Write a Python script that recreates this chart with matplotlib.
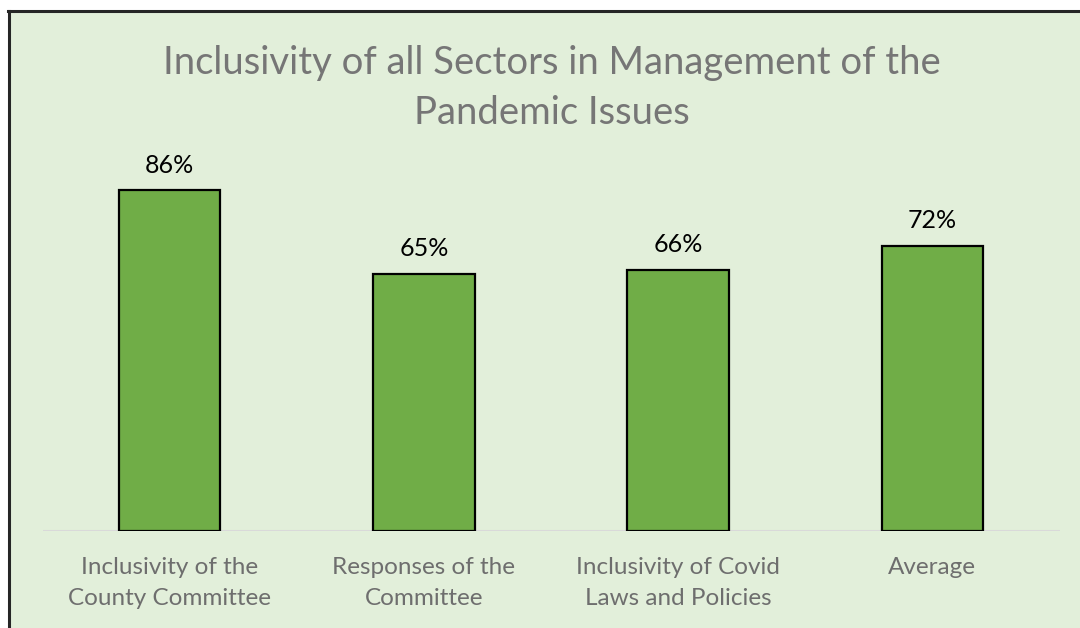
import matplotlib.pyplot as plt
from matplotlib.lines import Line2D
from matplotlib.patches import Rectangle

plt.rcParams['font.family'] = ['Lato', 'DejaVu Sans']

categories = ['Inclusivity of the\nCounty Committee',
              'Responses of the\nCommittee',
              'Inclusivity of Covid\nLaws and Policies',
              'Average']
values = [0.86, 0.65, 0.66, 0.72]
title = 'Inclusivity of all Sectors in Management of the\nPandemic Issues'

bg = '#E2EFDA'
bar_green = '#70AD47'

fig = plt.figure(figsize=(10.8, 6.28), dpi=100)
fig.patch.set_facecolor('white')

# green chart area with a dark frame on the top and left edges
W, H = 1080, 628
x0, top = 9 / W, 1 - 11 / H
fig.patches.append(Rectangle((x0, 0), 1 - x0, top, transform=fig.transFigure,
                             facecolor=bg, edgecolor='none', zorder=-2))
fig.add_artist(Line2D([x0, x0], [0, top], transform=fig.transFigure,
                      color='#262626', lw=2.2, zorder=-1))
fig.add_artist(Line2D([x0 - 1 / W, 1], [top, top], transform=fig.transFigure,
                      color='#262626', lw=2.2, zorder=-1))

ax = fig.add_axes([42.5 / W, 97 / H, 1017 / W, 396 / H])
ax.set_facecolor('none')

x = range(len(categories))
bars = ax.bar(x, values, width=0.4, color=bar_green, edgecolor='black', linewidth=1.6, zorder=3)
ax.set_xlim(-0.5, len(categories) - 0.5)
ax.set_ylim(0, 1)

for b, v in zip(bars, values):
    ax.annotate(f'{v:.0%}', (b.get_x() + b.get_width() / 2, v), xytext=(0, 10),
                textcoords='offset points', ha='center', va='bottom',
                fontsize=18, color='black')

ax.axhline(0, color='#D9D9D9', lw=1.5, zorder=2)
for s in ax.spines.values():
    s.set_visible(False)
ax.set_yticks([])
ax.set_xticks(list(x))
ax.set_xticklabels(categories, fontsize=17.5, color='#6E6E6E', linespacing=1.6)
ax.tick_params(axis='x', length=0, pad=18.5)

fig.text(552 / W, 1 - 45 / H, title, ha='center', va='top', fontsize=27.5,
         color='#767676', linespacing=1.5)

fig.savefig('out.png', dpi=100, facecolor=fig.get_facecolor())
